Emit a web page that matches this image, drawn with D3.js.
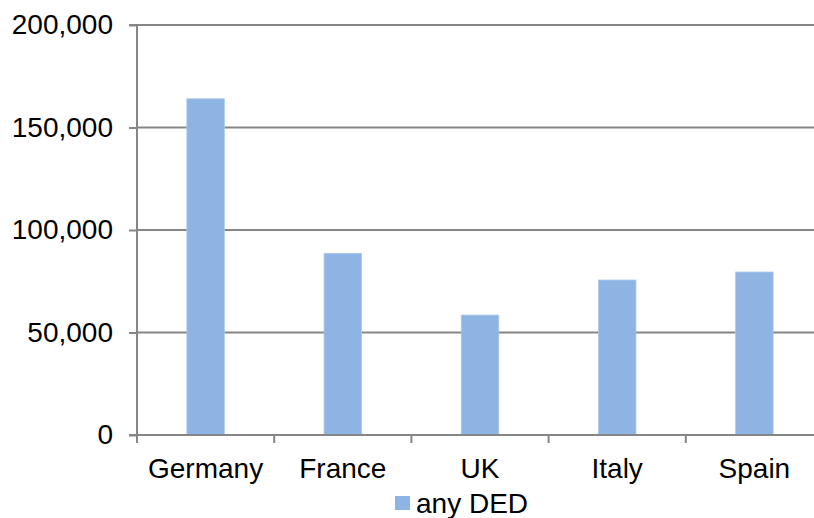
<!DOCTYPE html>
<html>
<head>
<meta charset="utf-8">
<script src="https://cdn.jsdelivr.net/npm/d3@7"></script>
<style>
  html, body { margin: 0; padding: 0; background: #fff; overflow: hidden; }
  svg { display: block; font-family: "Liberation Sans", Arial, sans-serif; }
</style>
</head>
<body>
<svg id="chart" width="814" height="518"></svg>
<script>
// Data
const categories = ["Germany", "France", "UK", "Italy", "Spain"];
const seriesName = "any DED";
const values = [164000, 88600, 58500, 75600, 79500];
const yTicks = [0, 50000, 100000, 150000, 200000];

const width = 814, height = 518;
const margin = { left: 137, top: 25, right: -9, bottom: 83 };
const plotW = width - margin.left - margin.right;
const plotH = height - margin.top - margin.bottom;
const fontSize = 28;

const svg = d3.select("#chart");
const g = svg.append("g").attr("transform", `translate(${margin.left},${margin.top})`);

const x = d3.scaleBand().domain(categories).range([0, plotW]).paddingInner(0.727).paddingOuter(0.3635);
const y = d3.scaleLinear().domain([0, 200000]).range([plotH, 0]);

const gridColor = "#868686";
const fmt = d3.format(",");

// Horizontal gridlines
g.append("g").selectAll("line").data(yTicks.filter(d => d > 0)).join("line")
  .attr("x1", 0).attr("x2", plotW)
  .attr("y1", d => y(d)).attr("y2", d => y(d))
  .attr("stroke", gridColor).attr("stroke-width", 2);

// Bars
g.append("g").selectAll("rect").data(values).join("rect")
  .attr("x", (d, i) => x(categories[i]))
  .attr("y", d => y(d))
  .attr("width", x.bandwidth())
  .attr("height", d => plotH - y(d))
  .attr("fill", "#8eb4e3")
  .attr("stroke", "#a9c6ec").attr("stroke-width", 0.8);

// Y axis
const yAxis = d3.axisLeft(y).tickValues(yTicks).tickFormat(fmt).tickSize(8).tickPadding(16);
const ya = g.append("g").call(yAxis);
ya.select(".domain").attr("stroke", gridColor).attr("stroke-width", 2).attr("d", `M-8,0H0V${plotH}H-8`);
ya.selectAll(".tick line").attr("stroke", gridColor).attr("stroke-width", 2);
ya.selectAll(".tick text").attr("font-size", fontSize).attr("fill", "#000")
  .attr("font-family", "Liberation Sans, Arial, sans-serif");

// X axis (ticks on category boundaries)
const xa = g.append("g").attr("transform", `translate(0,${plotH})`);
xa.append("line").attr("x1", -8).attr("x2", plotW).attr("stroke", gridColor).attr("stroke-width", 2);
const step = x.step();
const bounds = d3.range(categories.length + 1).map(i => i * step);
xa.selectAll("line.tk").data(bounds).join("line").attr("class", "tk")
  .attr("x1", d => d).attr("x2", d => d).attr("y1", 0).attr("y2", 8)
  .attr("stroke", gridColor).attr("stroke-width", 2);
xa.selectAll("text").data(categories).join("text")
  .attr("x", d => x(d) + x.bandwidth() / 2)
  .attr("y", 43)
  .attr("text-anchor", "middle")
  .attr("font-size", fontSize).attr("fill", "#000")
  .text(d => d);

// Legend
const lg = svg.append("g").attr("transform", "translate(395,496)");
lg.append("rect").attr("width", 15).attr("height", 14).attr("fill", "#8eb4e3");
lg.append("text").attr("x", 21).attr("y", 16.5).attr("font-size", fontSize).attr("fill", "#000").text(seriesName);
</script>
</body>
</html>
